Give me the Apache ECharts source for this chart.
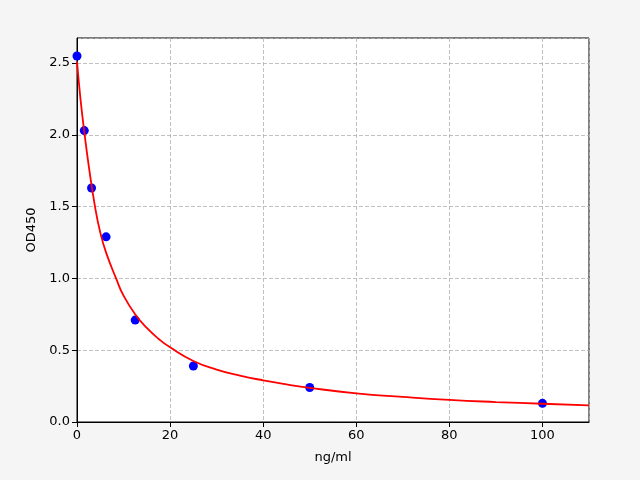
<!DOCTYPE html>
<html>
<head>
<meta charset="utf-8">
<script src="https://cdn.jsdelivr.net/npm/echarts@6/dist/echarts.min.js"></script>
<style>html,body{margin:0;padding:0;background:#f5f5f5;}#c{width:640px;height:480px;}</style>
</head>
<body>
<div id="c"></div>
<script>
// Measured standard points
const concentrations = [0, 1.5625, 3.125, 6.25, 12.5, 25, 50, 100];
const odValues = [2.55, 2.03, 1.63, 1.29, 0.71, 0.39, 0.24, 0.13];
// Fitted curve
const curveX = [0, 0.78, 1.65, 2.5, 3.87, 5, 6.25, 8.4, 10, 12.5, 15, 17.5, 20, 25, 30, 35, 40, 45, 50, 60, 70, 80, 90, 100, 110];
const curveY = [2.51, 2.24, 2.0, 1.79, 1.5, 1.32, 1.18, 1.0, 0.88, 0.75, 0.655, 0.58, 0.52, 0.425, 0.365, 0.323, 0.29, 0.262, 0.238, 0.2, 0.175, 0.154, 0.139, 0.127, 0.116];
const xTicks = [0, 20, 40, 60, 80, 100];
const yTicks = [0.0, 0.5, 1.0, 1.5, 2.0, 2.5];

const chart = echarts.init(document.getElementById('c'));
const font = 'DejaVu Sans';
chart.setOption({
  backgroundColor: '#f5f5f5',
  animation: false,
  grid: {left: 77, right: 51, top: 38, bottom: 58, show: true, backgroundColor: '#ffffff', borderColor: '#000', borderWidth: 1},
  xAxis: {
    type: 'value', min: 0, max: 110, interval: 20,
    name: 'ng/ml', nameLocation: 'middle', nameGap: 29,
    nameTextStyle: {color: '#000', fontSize: 13, fontFamily: font},
    axisLine: {show: true, onZero: false, lineStyle: {color: '#000', width: 1}},
    axisTick: {show: true, inside: false, length: 5, lineStyle: {color: '#000'}},
    axisLabel: {color: '#000', fontSize: 13, fontFamily: font, margin: 7, showMaxLabel: false,
      formatter: v => xTicks.includes(v) ? String(v) : ''},
    splitLine: {show: true, lineStyle: {color: '#b0b0b0', type: [4, 2], width: 0.8}}
  },
  yAxis: {
    type: 'value', min: 0, max: 2.675, interval: 0.5,
    name: 'OD450', nameLocation: 'middle', nameGap: 38, nameRotate: 90,
    nameTextStyle: {color: '#000', fontSize: 13, fontFamily: font},
    axisLine: {show: true, lineStyle: {color: '#000', width: 1}},
    axisTick: {show: true, inside: false, length: 5, lineStyle: {color: '#000'}},
    axisLabel: {color: '#000', fontSize: 13, fontFamily: font, margin: 7, showMaxLabel: false,
      formatter: v => yTicks.some(t => Math.abs(t - v) < 1e-6) ? v.toFixed(1) : ''},
    splitLine: {show: true, lineStyle: {color: '#b0b0b0', type: [4, 2], width: 0.8}}
  },
  series: [
    {
      type: 'scatter', z: 2,
      data: concentrations.map((x, i) => [x, odValues[i]]),
      symbol: 'circle', symbolSize: 9,
      itemStyle: {color: '#0000ff', opacity: 1}
    },
    {
      type: 'line', z: 3,
      data: curveX.map((x, i) => [x, curveY[i]]),
      smooth: 0.5, showSymbol: false, symbol: 'none',
      lineStyle: {color: '#ff0000', width: 1.8}
    }
  ]
});
</script>
</body>
</html>
